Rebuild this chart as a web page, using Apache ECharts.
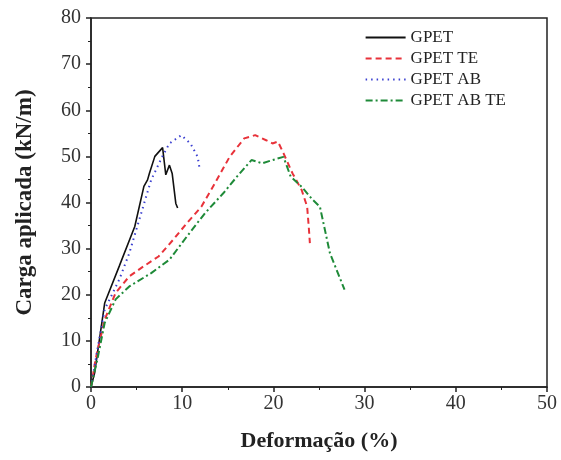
<!DOCTYPE html>
<html>
<head>
<meta charset="utf-8">
<script src="https://cdn.jsdelivr.net/npm/echarts@6/dist/echarts.min.js"></script>
<style>
  html, body { margin: 0; padding: 0; background: #fff; }
  #chart { width: 561px; height: 460px; }
</style>
</head>
<body>
<div id="chart"></div>
<script>
// curve data (x = deformacao %, y = carga kN/m)
var gpetX = [0, 0.4, 1.5, 3.1, 4.8, 5.8, 6.2, 6.4, 7.0, 7.85, 8.2, 8.6, 8.9, 9.3, 9.5];
var gpetY = [0, 3.1, 18.2, 26.2, 34.8, 43.5, 44.9, 46.3, 50.0, 51.9, 46.0, 48.1, 46.3, 39.8, 38.8];

var gpetTeX = [0, 0.5, 1.5, 2.7, 4.2, 5.8, 7.4, 9.0, 10.5, 12.1, 13.6, 15.2, 16.8, 18.0, 19.2, 19.9, 20.5, 21.1, 22.1, 23.1, 23.7, 23.9, 24.0];
var gpetTeY = [0, 6.0, 14.6, 20.4, 24.0, 26.2, 28.3, 31.9, 35.5, 39.1, 44.2, 49.9, 53.9, 54.6, 53.5, 52.8, 53.2, 50.7, 46.3, 42.7, 39.1, 34.1, 31.2];

var gpetAbX = [0, 0.7, 1.5, 3.1, 4.2, 5.4, 6.6, 7.8, 8.6, 9.9, 10.9, 11.7, 11.9];
var gpetAbY = [0, 8.1, 16.8, 23.3, 29.0, 37.0, 44.9, 49.9, 52.8, 54.6, 52.8, 49.9, 47.4];

var gpetAbTeX = [0, 0.7, 1.5, 2.7, 4.2, 6.6, 8.6, 10.5, 12.5, 14.5, 16.0, 17.6, 18.8, 19.9, 21.1, 21.9, 23.1, 24.3, 25.1, 26.2, 27.8];
var gpetAbTeY = [0, 6.0, 13.9, 19.0, 21.8, 24.7, 27.6, 32.6, 37.7, 42.0, 45.6, 49.2, 48.5, 49.2, 49.9, 45.6, 43.4, 40.6, 39.1, 29.0, 21.1];

var xTicks = [0, 10, 20, 30, 40, 50];
var yTicks = [0, 10, 20, 30, 40, 50, 60, 70, 80];

function pairs(xs, ys) {
  return xs.map(function (x, i) { return [x, ys[i]]; });
}

var serif = 'Liberation Serif';
var myChart = echarts.init(document.getElementById('chart'));

function curve(name, xs, ys, color, type, width) {
  return {
    name: name,
    type: 'line',
    data: pairs(xs, ys),
    showSymbol: false,
    symbol: 'none',
    lineStyle: { color: color, width: width, type: type },
    itemStyle: { color: color }
  };
}

var option = {
  animation: false,
  backgroundColor: '#fff',
  grid: {
    left: 91, right: 14, top: 18, bottom: 73,
    show: true, borderColor: '#222', borderWidth: 1.5
  },
  legend: {
    right: 50, top: 24,
    orient: 'vertical',
    itemWidth: 40, itemHeight: 12, itemGap: 4,
    itemStyle: { opacity: 0 },
    textStyle: { fontFamily: serif, fontSize: 17, color: '#222' },
    data: ['GPET', 'GPET TE', 'GPET AB', 'GPET AB TE']
  },
  xAxis: {
    type: 'value',
    min: xTicks[0], max: xTicks[xTicks.length - 1], interval: 10,
    name: 'Deformação (%)',
    nameLocation: 'middle', nameGap: 43,
    nameTextStyle: { fontFamily: serif, fontSize: 22, fontWeight: 'bold', color: '#222' },
    axisLine: { lineStyle: { color: '#222', width: 1.5 } },
    axisTick: { length: 5, lineStyle: { color: '#222', width: 1.5 } },
    minorTick: { show: true, splitNumber: 2, length: 3, lineStyle: { color: '#222' } },
    axisLabel: { fontFamily: serif, fontSize: 20, color: '#333', margin: 7 },
    splitLine: { show: false }
  },
  yAxis: {
    type: 'value',
    min: yTicks[0], max: yTicks[yTicks.length - 1], interval: 10,
    name: 'Carga aplicada (kN/m)',
    nameLocation: 'middle', nameGap: 54,
    nameTextStyle: { fontFamily: serif, fontSize: 23, fontWeight: 'bold', color: '#222' },
    axisLine: { show: true, lineStyle: { color: '#222', width: 1.5 } },
    axisTick: { show: true, length: 5, lineStyle: { color: '#222', width: 1.5 } },
    minorTick: { show: true, splitNumber: 2, length: 3, lineStyle: { color: '#222' } },
    axisLabel: { fontFamily: serif, fontSize: 20, color: '#333', margin: 10 },
    splitLine: { show: false }
  },
  series: [
    curve('GPET', gpetX, gpetY, '#111111', 'solid', 1.6),
    curve('GPET TE', gpetTeX, gpetTeY, '#e8323a', [6, 4], 2),
    curve('GPET AB', gpetAbX, gpetAbY, '#3a3fd0', [1.5, 4], 2),
    curve('GPET AB TE', gpetAbTeX, gpetAbTeY, '#1e8a38', [7, 3, 2, 3], 2)
  ]
};

myChart.setOption(option);
</script>
</body>
</html>
